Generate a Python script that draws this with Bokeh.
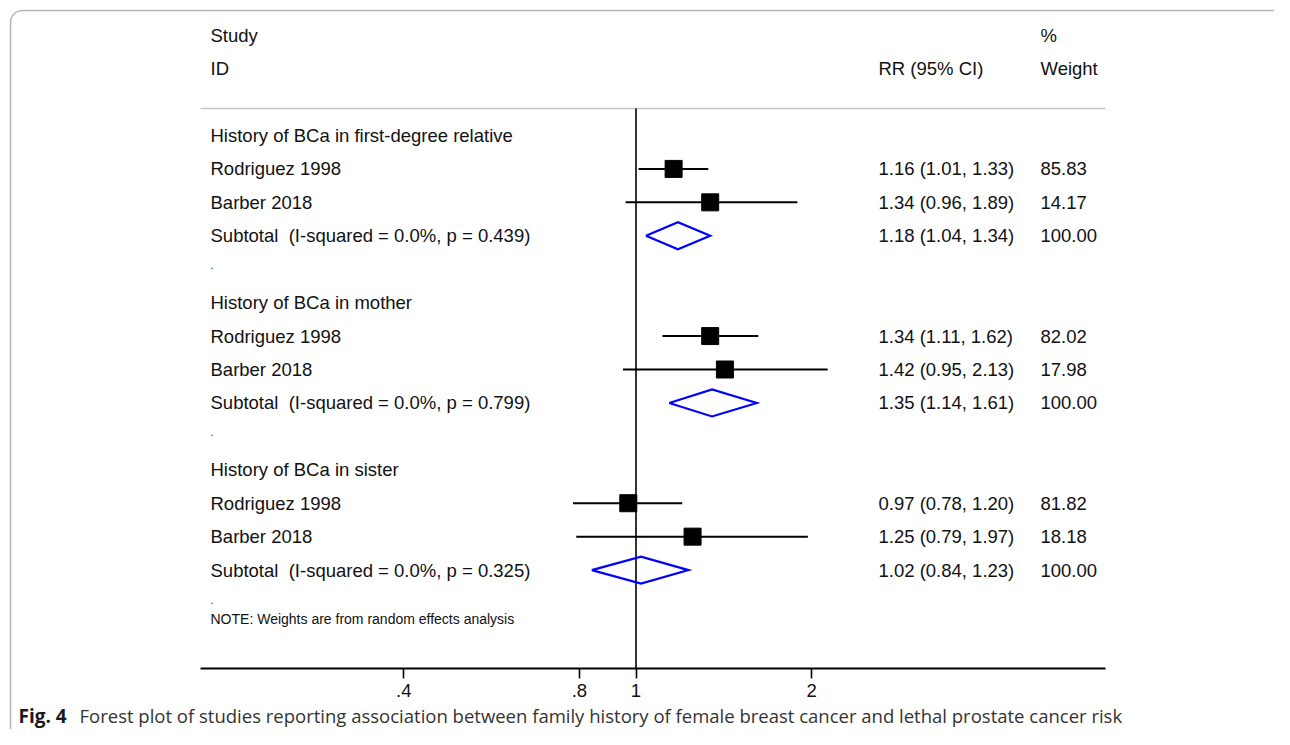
import math
from bokeh.plotting import figure
from bokeh.models import Range1d, FixedTicker, CustomJSTickFormatter, BoxAnnotation, ColumnDataSource
from bokeh.core.properties import value
from bokeh.embed import file_html
from bokeh.resources import INLINE

# ---------------- data ----------------
groups = ["History of BCa in first-degree relative", "History of BCa in mother", "History of BCa in sister"]
studies = ["Rodriguez 1998", "Barber 2018"]
rr = [[1.16, 1.34], [1.34, 1.42], [0.97, 1.25]]
lo = [[1.01, 0.96], [1.11, 0.95], [0.78, 0.79]]
hi = [[1.33, 1.89], [1.62, 2.13], [1.20, 1.97]]
wt = [[85.83, 14.17], [82.02, 17.98], [81.82, 18.18]]
sub_rr = [1.18, 1.35, 1.02]
sub_lo = [1.04, 1.14, 0.84]
sub_hi = [1.34, 1.61, 1.23]
sub_i2 = [0.0, 0.0, 0.0]
sub_p = [0.439, 0.799, 0.325]
tick_vals = [0.4, 0.8, 1, 2]
note = "NOTE: Weights are from random effects analysis"
caption_bold = "Fig. 4"
caption_rest = ("Forest plot of studies reporting association between family history of "
                "female breast cancer and lethal prostate cancer risk")

# ---------------- pixel helpers (picture coordinates) ----------------
S0, K = 635.5, 253.5       # x pixel of RR=1, px per ln unit
R0, RS = 34.7, 33.43       # y pixel of row 0, px per row
def X(s):
    return math.exp((s - S0) / K)
def Y(s):
    return (s - R0) / RS

W, H = 1274, 729
p = figure(width=W, height=H, x_axis_type="log",
           x_range=Range1d(X(0), X(W)), y_range=Range1d(Y(H), Y(0)),
           output_backend="svg", toolbar_location=None, y_axis_location=None,
           min_border=0, min_border_left=0, min_border_right=0,
           min_border_top=0, min_border_bottom=0)
p.outline_line_color = None
p.grid.visible = False
p.background_fill_color = "white"

FONT = value("Liberation Sans")
TXT = dict(text_font=FONT, text_font_size="18.5px", text_baseline="middle", text_color="#111111")

x_lab, x_rr, x_w = X(210), X(878), X(1040)

# header
p.text(x=[x_lab, x_lab, x_rr, x_w, x_w], y=[0, 1, 1, 0, 1],
       text=["Study", "ID", "RR (95% CI)", "%", "Weight"], **TXT)
y_sep = Y(108)
y_ax = Y(668)
p.line(x=[X(200), X(1105)], y=[y_sep, y_sep], line_color="#c4c4c4", line_width=1.6)

# rows
lab_y, lab_t, rr_t, w_t = [], [], [], []
st_x, st_y, st_lo, st_hi = [], [], [], []
dxs, dys = [], []
dot_y = []
for g in range(len(groups)):
    base = 3 + 5 * g
    lab_y.append(base); lab_t.append(groups[g])
    for i in range(len(studies)):
        r = base + 1 + i
        lab_y.append(r); lab_t.append(studies[i])
        rr_t.append((r, "%.2f (%.2f, %.2f)" % (rr[g][i], lo[g][i], hi[g][i])))
        w_t.append((r, "%.2f" % wt[g][i]))
        st_x.append(rr[g][i]); st_y.append(r); st_lo.append(lo[g][i]); st_hi.append(hi[g][i])
    r = base + 3
    lab_y.append(r)
    lab_t.append("Subtotal\u00a0 (I-squared = %.1f%%, p = %.3f)" % (sub_i2[g], sub_p[g]))
    rr_t.append((r, "%.2f (%.2f, %.2f)" % (sub_rr[g], sub_lo[g], sub_hi[g])))
    w_t.append((r, "100.00"))
    h = 13.5 / RS
    dxs.append([sub_lo[g], sub_rr[g], sub_hi[g], sub_rr[g], sub_lo[g]])
    dys.append([r, r - h, r, r + h, r])
    dot_y.append(base + 4)

p.text(x=[x_lab] * len(lab_y), y=lab_y, text=lab_t, **TXT)
p.text(x=[x_rr] * len(rr_t), y=[a for a, _ in rr_t], text=[b for _, b in rr_t], **TXT)
p.text(x=[x_w] * len(w_t), y=[a for a, _ in w_t], text=[b for _, b in w_t], **TXT)
p.text(x=[x_lab] * len(dot_y), y=dot_y, text=["."] * len(dot_y),
       text_font=FONT, text_font_size="11px", text_baseline="bottom", text_color="#111111")
p.text(x=[x_lab], y=[Y(618)], text=[note], text_font=FONT, text_font_size="14px",
       text_baseline="middle", text_color="#111111")

# null line
p.line(x=[1, 1], y=[y_sep, y_ax], line_color="black", line_width=1.6)

# CIs and boxes
src = ColumnDataSource(dict(x=st_x, y=st_y, lo=st_lo, hi=st_hi))
p.segment(x0="lo", x1="hi", y0="y", y1="y", source=src, line_color="black", line_width=2)
p.scatter(x="x", y="y", source=src, marker="square", size=17, fill_color="black", line_color="black")

# diamonds
p.multi_line(xs=dxs, ys=dys, line_color="#0000ff", line_width=2.2, line_join="miter")

# x axis
ax = p.xaxis[0]
ax.fixed_location = y_ax
ax.bounds = (X(200), X(1105))
ax.ticker = FixedTicker(ticks=tick_vals, minor_ticks=[])
ax.formatter = CustomJSTickFormatter(code="return tick < 1 ? String(tick).replace(/^0/, '') : String(tick);")
ax.axis_line_color = "black"
ax.axis_line_width = 1.8
ax.major_tick_line_color = "black"
ax.major_tick_line_width = 1.6
ax.major_tick_in = 0
ax.major_tick_out = 10
ax.minor_tick_line_color = None
ax.major_label_standoff = 5
ax.major_label_text_font = "Liberation Sans"
ax.major_label_text_font_size = "18.5px"
ax.major_label_text_color = "#111111"

# caption
p.text(x=[X(18)], y=[Y(715)], text=[caption_bold], text_font=value("Open Sans"),
       text_font_size="19px", text_font_style="bold", text_baseline="middle", text_color="#1a1a1a")
p.text(x=[X(79)], y=[Y(715)], text=[caption_rest], text_font=value("Open Sans"),
       text_font_size="18.5px", text_baseline="middle", text_color="#333333")

# frame border (decorative rounded box)
p.add_layout(BoxAnnotation(left=X(10), right=X(1300), top=Y(10), bottom=Y(760),
                           fill_color=None, line_color="#111111", line_width=1.6,
                           border_radius=12))

open("out.html", "w").write(file_html(p, INLINE))
